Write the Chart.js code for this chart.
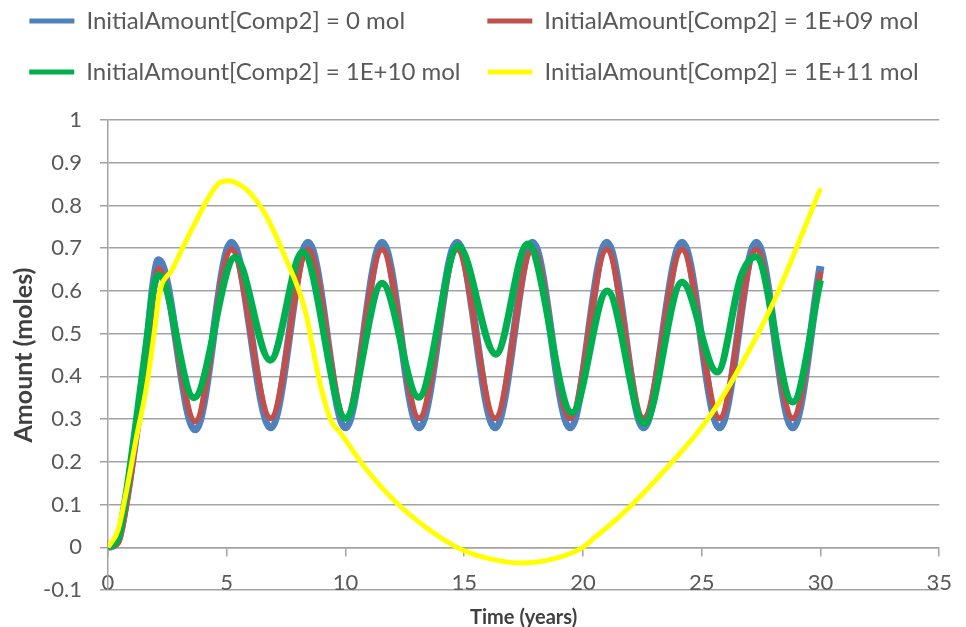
<!DOCTYPE html>
<html>
<head>
<meta charset="utf-8">
<script src="https://cdn.jsdelivr.net/npm/chart.js@4/dist/chart.umd.min.js"></script>
<style>
html,body{margin:0;padding:0;background:#fff;}
#wrap{width:966px;height:627px;}
</style>
</head>
<body>
<div id="wrap"><canvas id="c" width="966" height="627"></canvas></div>
<script>
/* datos: tiempo (años) y cantidad (moles) */
const LABELS=['InitialAmount[Comp2] = 0 mol','InitialAmount[Comp2] = 1E+09 mol','InitialAmount[Comp2] = 1E+10 mol','InitialAmount[Comp2] = 1E+11 mol'];
const COLORS=['#4F81BD','#C0504D','#00B050','#FFFF00'];

const T_BLUE=[0,0.42,0.78,1.2,1.62,1.9,2.13,3.67,5.2,6.85,8.42,10.0,11.54,13.1,14.7,16.3,17.87,19.46,21.0,22.55,24.17,25.75,27.3,28.83,30];
const V_BLUE=[0,0.016,0.117,0.274,0.455,0.61,0.672,0.276,0.713,0.281,0.713,0.281,0.713,0.281,0.713,0.281,0.713,0.281,0.713,0.281,0.713,0.281,0.713,0.281,0.658];

const T_RED=[0,0.42,0.78,1.2,1.62,1.9,2.13,3.67,5.2,6.85,8.42,10.0,11.54,13.1,14.7,16.3,17.87,19.46,21.0,22.55,24.17,25.75,27.3,28.83,30];
const V_RED=[0,0.01,0.1,0.26,0.44,0.59,0.652,0.295,0.697,0.302,0.697,0.302,0.697,0.302,0.697,0.302,0.697,0.302,0.697,0.302,0.697,0.302,0.697,0.302,0.645];

const T_GREEN=[0,0.42,0.78,1.2,1.62,1.9,2.15,3.62,5.36,6.83,8.2,10.0,11.54,13.08,14.75,16.33,17.67,19.54,21.02,22.58,24.17,25.65,26.67,27.28,28.83,30];
const V_GREEN=[0,0.02,0.13,0.3,0.48,0.6,0.637,0.35,0.679,0.438,0.691,0.302,0.618,0.351,0.705,0.452,0.71,0.315,0.6,0.29,0.62,0.41,0.637,0.68,0.34,0.625];

const T_YELLOW=[0,0.42,0.78,1.2,1.62,1.96,2.17,2.7,3.1,3.54,4.25,4.67,5.08,5.5,5.9,6.6,7.46,8.3,8.9,9.38,9.8,10.8,12.17,13.55,14.95,16.33,17.45,18.83,19.94,20.5,21.5,22.5,23.5,24.67,25.6,27.0,28.0,28.83,30];
const V_YELLOW=[0,0.04,0.133,0.258,0.375,0.508,0.595,0.649,0.696,0.745,0.82,0.852,0.858,0.85,0.834,0.782,0.679,0.555,0.39,0.297,0.267,0.188,0.103,0.04,-0.007,-0.03,-0.037,-0.026,-0.002,0.023,0.07,0.124,0.184,0.258,0.328,0.461,0.571,0.679,0.84];

const SERIES=[[T_BLUE,V_BLUE],[T_RED,V_RED],[T_GREEN,V_GREEN],[T_YELLOW,V_YELLOW]];
const WIDTHS=[8,6,7,5];

const TXT='#595959',TIT='#404040',GRID='#a3a3a3',FONT='Lato',LEG=24;

const datasets=SERIES.map((s,i)=>({
  label:LABELS[i],
  data:s[0].map((t,k)=>({x:t,y:s[1][k]})),
  borderColor:COLORS[i],backgroundColor:COLORS[i],
  borderWidth:WIDTHS[i],pointRadius:0,cubicInterpolationMode:'monotone',
  order:4-i
}));

// leyenda en dos columnas: se rellena la primera etiqueta para igualar anchos
function legendLabels(chart){
  const items=Chart.defaults.plugins.legend.labels.generateLabels(chart).sort((a,b)=>a.datasetIndex-b.datasetIndex);
  const ctx=chart.ctx; ctx.save(); ctx.font=LEG+'px '+FONT;
  const target=ctx.measureText(items[2].text).width;
  while(ctx.measureText(items[0].text+' ').width<=target) items[0].text+=' ';
  ctx.restore();
  items.forEach(it=>{it.lineWidth=0;});
  return items;
}

// hueco entre la leyenda y el area del grafico
const spacer={id:'spacer',beforeInit(chart){
  Chart.layouts.addBox(chart,{position:'top',weight:500,fullSize:true,options:{},
    left:0,top:0,right:0,bottom:0,width:0,height:0,
    isHorizontal(){return true;},
    update(w){this.width=w;this.height=26;},
    draw(){}});
}};

new Chart(document.getElementById('c'),{
  type:'line',
  data:{datasets},
  plugins:[spacer],
  options:{
    responsive:false,animation:false,
    layout:{padding:{top:-18,right:18,bottom:37,left:0}},
    plugins:{
      tooltip:{enabled:false},
      legend:{position:'top',labels:{boxWidth:45,boxHeight:5,padding:27,color:TXT,font:{family:FONT,size:LEG},
        sort:(a,b)=>a.datasetIndex-b.datasetIndex,generateLabels:legendLabels}}
    },
    scales:{
      x:{type:'linear',min:0,max:35,position:{y:0},
        ticks:{stepSize:5,color:TXT,padding:14,font:{family:FONT,size:22}},
        grid:{drawOnChartArea:false,drawTicks:true,tickLength:8,color:GRID,lineWidth:1.5},
        border:{display:true,color:GRID,width:1.5},
        title:{display:true,text:'Time (years)',color:TIT,font:{family:FONT,size:20,weight:'bold'},padding:{top:-4,bottom:4}}},
      y:{min:-0.1,max:1,
        afterFit:s=>{s.width=108;},
        ticks:{stepSize:0.1,color:TXT,padding:18,font:{family:FONT,size:22},callback:v=>+v.toFixed(1)},
        grid:{color:GRID,lineWidth:1.5,tickLength:8},
        border:{display:true,color:GRID,width:1.5},
        title:{display:true,text:'Amount (moles)',color:TIT,font:{family:FONT,size:25,weight:'bold'},padding:{top:9,bottom:0}}}
    }
  }
});
</script>
</body>
</html>
